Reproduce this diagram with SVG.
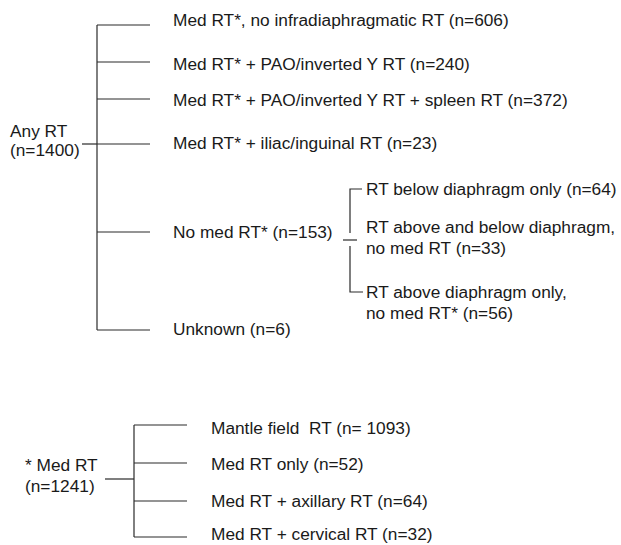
<svg xmlns="http://www.w3.org/2000/svg" width="621" height="545" viewBox="0 0 621 545">
<style>
text{font-family:"Liberation Sans",Arial,sans-serif;font-size:17.3px;fill:#1a1a1a}
.c line,.c path{stroke:#2a2a2a;stroke-width:1.2;fill:none}
</style>
<rect width="621" height="545" fill="#fff"/>
<g class="c" id="connectors">
<line x1="97" y1="25" x2="97" y2="330"/>
<line x1="82" y1="144" x2="97" y2="144"/>
<line x1="97" y1="25" x2="150" y2="25"/>
<line x1="97" y1="62" x2="150" y2="62"/>
<line x1="97" y1="99" x2="150" y2="99"/>
<line x1="97" y1="144" x2="150" y2="144"/>
<line x1="97" y1="232" x2="150" y2="232"/>
<line x1="97" y1="330" x2="150" y2="330"/>
<path d="M362 189H350V233"/>
<line x1="343" y1="240" x2="357" y2="240"/>
<path d="M350 246V292H363"/>
<line x1="105" y1="479" x2="134" y2="479"/>
<line x1="134" y1="425" x2="134" y2="537"/>
<line x1="134" y1="425" x2="187" y2="425"/>
<line x1="134" y1="463" x2="187" y2="463"/>
<line x1="134" y1="501" x2="187" y2="501"/>
<line x1="134" y1="537" x2="187" y2="537"/>
</g>
<g id="root"><text x="10" y="137">Any RT</text><text x="10" y="156">(n=1400)</text></g>
<g id="n1"><text x="173" y="26">Med RT*, no infradiaphragmatic RT (n=606)</text></g>
<g id="n2"><text x="173" y="70">Med RT* + PAO/inverted Y RT (n=240)</text></g>
<g id="n3"><text x="173" y="106">Med RT* + PAO/inverted Y RT + spleen RT (n=372)</text></g>
<g id="n4"><text x="173" y="149">Med RT* + iliac/inguinal RT (n=23)</text></g>
<g id="n5"><text x="173" y="238">No med RT* (n=153)</text></g>
<g id="n6"><text x="173" y="335">Unknown (n=6)</text></g>
<g id="s1"><text x="366" y="195">RT below diaphragm only (n=64)</text></g>
<g id="s2"><text x="366" y="233">RT above and below diaphragm,</text><text x="366" y="254">no med RT (n=33)</text></g>
<g id="s3"><text x="366" y="298">RT above diaphragm only,</text><text x="366" y="319">no med RT* (n=56)</text></g>
<g id="medroot"><text x="25" y="471">* Med RT</text><text x="25" y="492">(n=1241)</text></g>
<g id="m1"><text x="211" y="434" style="white-space:pre">Mantle field  RT (n= 1093)</text></g>
<g id="m2"><text x="211" y="470">Med RT only (n=52)</text></g>
<g id="m3"><text x="211" y="507">Med RT + axillary RT (n=64)</text></g>
<g id="m4"><text x="211" y="540">Med RT + cervical RT (n=32)</text></g>
</svg>
